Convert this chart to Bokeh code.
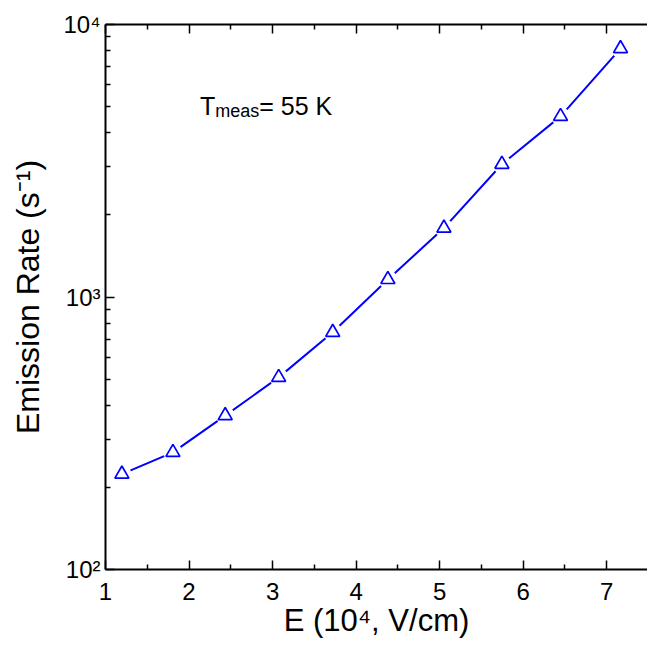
import math
from bokeh.plotting import figure
from bokeh.models import Label, LinearAxis, FixedTicker, CustomJSTickFormatter, Range1d
from bokeh.embed import file_html
from bokeh.resources import INLINE

# ---- data ----
field = [1.196, 1.807, 2.433, 3.073, 3.720, 4.380, 5.051, 5.745, 6.447, 7.165]
rate = [224, 269, 367, 507, 742, 1160, 1790, 3070, 4600, 8160]

x_ticks = [1, 2, 3, 4, 5, 6, 7]
x_minor = [1.5, 2.5, 3.5, 4.5, 5.5, 6.5, 7.5]
y_ticks = [100, 1000, 10000]
y_minor = [200, 300, 400, 500, 600, 700, 800, 900,
           2000, 3000, 4000, 5000, 6000, 7000, 8000, 9000]
y_tick_labels = ["10\u00b2", "10\u00b3", "10\u2074"]

x_title = "E (10\u2074, V/cm)"
y_title = "Emission Rate (s\u207b\u00b9)"
note = ["T", "meas", "= 55 K"]

# ---- layout ----
X0, X1 = 1.0, 7.488
Y0, Y1 = 100, 10000
W, H = 647, 645
FL, FT, FW, FH = 105, 24, 542, 545
FB = FT + FH
FONT = "Liberation Sans"

ARIAL = {'T': .611, 'm': .833, 'e': .556, 'a': .556, 's': .5, '=': .584, ' ': .278,
         '5': .556, 'K': .667}


def tw(s, size):
    return sum(ARIAL.get(c, .556) for c in s) * size


def xd(px):
    return X0 + (px - FL) * (X1 - X0) / FW


def yd(py):
    return 10 ** (math.log10(Y0) + (FB - py) * (math.log10(Y1) - math.log10(Y0)) / FH)


p = figure(width=W, height=H, x_range=Range1d(X0, X1), y_range=Range1d(Y0, Y1),
           y_axis_type="log", output_backend="svg", toolbar_location=None,
           min_border_left=FL, min_border_right=0, min_border_top=FT,
           min_border_bottom=H - FB)
p.outline_line_color = None
p.xgrid.visible = False
p.ygrid.visible = False
p.background_fill_color = "white"
p.border_fill_color = "white"

empty = CustomJSTickFormatter(code="return ''")


def style_axis(ax):
    ax.axis_line_width = 2
    ax.axis_line_color = "black"
    ax.major_tick_in = 9
    ax.major_tick_out = 0
    ax.minor_tick_in = 5
    ax.minor_tick_out = 0
    ax.major_tick_line_width = 1.5
    ax.minor_tick_line_width = 1.5
    ax.major_tick_line_color = "black"
    ax.minor_tick_line_color = "black"
    ax.major_label_text_font = FONT
    ax.major_label_text_color = "black"
    ax.axis_label_text_font = FONT
    ax.axis_label_text_font_style = "normal"
    ax.axis_label_text_color = "black"


xax = p.xaxis[0]
xax.ticker = FixedTicker(ticks=x_ticks, minor_ticks=x_minor)
style_axis(xax)
xax.major_label_text_font_size = "24px"
xax.major_label_standoff = 13
xax.axis_label = x_title
xax.axis_label_text_font_size = "31px"
xax.axis_label_standoff = 0

yax = p.yaxis[0]
yax.ticker = FixedTicker(ticks=y_ticks, minor_ticks=y_minor)
yax.formatter = CustomJSTickFormatter(
    args=dict(labels=y_tick_labels),
    code="return labels[Math.round(Math.log10(tick)) - 2]")
style_axis(yax)
yax.major_label_text_font_size = "24px"
yax.major_label_standoff = 5
yax.axis_label = y_title
yax.axis_label_text_font_size = "32px"
yax.axis_label_standoff = 14

top = LinearAxis(ticker=FixedTicker(ticks=x_ticks, minor_ticks=x_minor), formatter=empty)
style_axis(top)
top.major_label_standoff = 0
p.add_layout(top, "above")

# ---- data marks ----
p.line(field, rate, line_color="#0000FF", line_width=2)
p.scatter(field, rate, marker="circle", size=19, fill_color="white", line_color=None)
p.scatter(field, rate, marker="triangle", size=14, fill_color="white",
          line_color="#0000FF", line_width=1.7)


def lab(text, px, py, size):
    p.add_layout(Label(x=xd(px), y=yd(py), text=text, text_font=FONT,
                       text_font_size=f"{size}px", text_color="black",
                       text_align="left", text_baseline="alphabetic"))


# annotation inside the frame
lab(note[0], 199.5, 105, 25)
n2 = 199.5 + tw(note[0], 25)
lab(note[1], n2, 110, 18)
n3 = n2 + tw(note[1], 18)
lab(note[2], n3, 105, 25)

open("out.html", "w").write(file_html(p, INLINE))
